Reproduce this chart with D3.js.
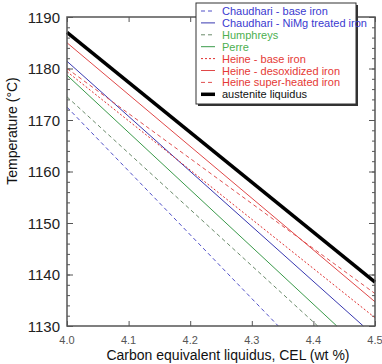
<!DOCTYPE html>
<html>
<head>
<meta charset="utf-8">
<script src="https://cdn.jsdelivr.net/npm/d3@7"></script>
<style>
  body { margin: 0; background: #fff; }
  text { font-family: "Liberation Sans", Arial, sans-serif; }
</style>
</head>
<body>
<div id="chart"></div>
<script>
// Serien: [CEL, Temperatur] Endpunkte
const seriesNames = [
  "Chaudhari - base iron",
  "Chaudhari - NiMg treated iron",
  "Humphreys",
  "Perre",
  "Heine - base iron",
  "Heine - desoxidized iron",
  "Heine super-heated iron",
  "austenite liquidus"
];
const chaudhariBase = [[4.0, 1172.5], [4.343, 1130]];
const chaudhariNiMg = [[4.0, 1181.4], [4.481, 1130]];
const humphreys = [[4.0, 1174.5], [4.407, 1130]];
const perre = [[4.0, 1178.7], [4.438, 1130]];
const heineBase = [[4.0, 1179.4], [4.5, 1131.6]];
const heineDesox = [[4.0, 1185.0], [4.5, 1134.7]];
const heineSuper = [[4.0, 1180.0], [4.5, 1136.3]];
const austenite = [[4.0, 1187.0], [4.5, 1138.5]];

const xTicks = [4.0, 4.1, 4.2, 4.3, 4.4, 4.5];
const yTicks = [1130, 1140, 1150, 1160, 1170, 1180, 1190];

// Stile
const styles = [
  {color: "#5050c8", width: 1, dash: "4,3", text: "#3a3ad0"},
  {color: "#3838b0", width: 1, dash: null, text: "#3a3ad0"},
  {color: "#6a8a6a", width: 1, dash: "4,3", text: "#4caf50"},
  {color: "#3a9a4a", width: 1, dash: null, text: "#4caf50"},
  {color: "#e03030", width: 1, dash: "2,2", text: "#e53935"},
  {color: "#e04848", width: 1, dash: null, text: "#e53935"},
  {color: "#e05050", width: 1, dash: "4,3", text: "#e53935"},
  {color: "#000", width: 3.5, dash: null, text: "#111"}
];
const allSeries = [chaudhariBase, chaudhariNiMg, humphreys, perre, heineBase, heineDesox, heineSuper, austenite];

const width = 382, height = 364;
const m = {left: 67, right: 7, top: 17, bottom: 38};

const svg = d3.select("#chart").append("svg")
  .attr("width", width).attr("height", height);

const x = d3.scaleLinear().domain([4.0, 4.5]).range([m.left, width - m.right]);
const y = d3.scaleLinear().domain([1130, 1190]).range([height - m.bottom, m.top]);

const axisColor = "#555";

// Achsen (Ticks nach innen, links/rechts mit Nebenticks)
const minorY = d3.range(1130, 1191, 2);
function yTicksAt(xpos, axisFn) {
  svg.append("g")
    .attr("transform", `translate(${xpos},0)`)
    .call(axisFn(y).tickValues(minorY).tickSize(3).tickFormat(""))
    .call(g => g.select(".domain").remove())
    .call(g => g.selectAll("line").attr("stroke", axisColor));
  svg.append("g")
    .attr("transform", `translate(${xpos},0)`)
    .call(axisFn(y).tickValues(yTicks).tickSize(6).tickFormat(""))
    .call(g => g.select(".domain").remove())
    .call(g => g.selectAll("line").attr("stroke", axisColor));
}
yTicksAt(m.left, d3.axisRight);
yTicksAt(width - m.right, d3.axisLeft);

svg.append("g")
  .attr("transform", `translate(0,${height - m.bottom})`)
  .call(d3.axisTop(x).tickValues(xTicks).tickSize(5).tickFormat(""))
  .call(g => g.select(".domain").remove())
  .call(g => g.selectAll("line").attr("stroke", axisColor));
svg.append("g")
  .attr("transform", `translate(0,${m.top})`)
  .call(d3.axisBottom(x).tickValues(xTicks).tickSize(5).tickFormat(""))
  .call(g => g.select(".domain").remove())
  .call(g => g.selectAll("line").attr("stroke", axisColor));

// Tick-Beschriftungen
svg.append("g").selectAll("text").data(yTicks).join("text")
  .attr("x", m.left - 7).attr("y", d => y(d) + 5.5)
  .attr("text-anchor", "end").attr("font-size", 15).attr("fill", "#222")
  .text(d => d);
svg.append("g").selectAll("text").data(xTicks).join("text")
  .attr("x", d => x(d)).attr("y", height - m.bottom + 18)
  .attr("text-anchor", "middle").attr("font-size", 11).attr("fill", "#555")
  .text(d => d.toFixed(1));

// Linien
const line = d3.line().x(d => x(d[0])).y(d => y(d[1]));
svg.append("g").selectAll("path").data(allSeries).join("path")
  .attr("d", line)
  .attr("fill", "none")
  .attr("stroke", (d, i) => styles[i].color)
  .attr("stroke-width", (d, i) => styles[i].width)
  .attr("stroke-dasharray", (d, i) => styles[i].dash);

// Rahmen
svg.append("rect")
  .attr("x", m.left).attr("y", m.top)
  .attr("width", width - m.left - m.right).attr("height", height - m.top - m.bottom)
  .attr("fill", "none").attr("stroke", axisColor).attr("stroke-width", 1.5);

// Achsentitel
svg.append("text")
  .attr("transform", "translate(17,131) rotate(-90)")
  .attr("text-anchor", "middle").attr("font-size", 14).attr("fill", "#111")
  .text("Temperature (°C)");
svg.append("text")
  .attr("x", 228).attr("y", 360)
  .attr("text-anchor", "middle").attr("font-size", 14).attr("fill", "#111")
  .text("Carbon equivalent liquidus, CEL (wt %)");

// Legende
const lg = {x: 196, y: 3, w: 160, h: 101};
svg.append("rect")
  .attr("x", lg.x + 2).attr("y", lg.y + 2).attr("width", lg.w).attr("height", lg.h)
  .attr("fill", "#333");
svg.append("rect")
  .attr("x", lg.x).attr("y", lg.y).attr("width", lg.w).attr("height", lg.h)
  .attr("fill", "#fff").attr("stroke", "#333").attr("stroke-width", 1);
const item = svg.append("g").selectAll("g").data(seriesNames).join("g")
  .attr("transform", (d, i) => `translate(${lg.x + 5},${lg.y + 12 + i * 11.9})`);
item.append("line")
  .attr("x1", 0).attr("x2", 14).attr("y1", -4).attr("y2", -4)
  .attr("stroke", (d, i) => styles[i].color)
  .attr("stroke-width", (d, i) => styles[i].width)
  .attr("stroke-dasharray", (d, i) => styles[i].dash);
item.append("text")
  .attr("x", 21).attr("y", 0)
  .attr("font-size", 11).attr("fill", (d, i) => styles[i].text)
  .text(d => d);
</script>
</body>
</html>
